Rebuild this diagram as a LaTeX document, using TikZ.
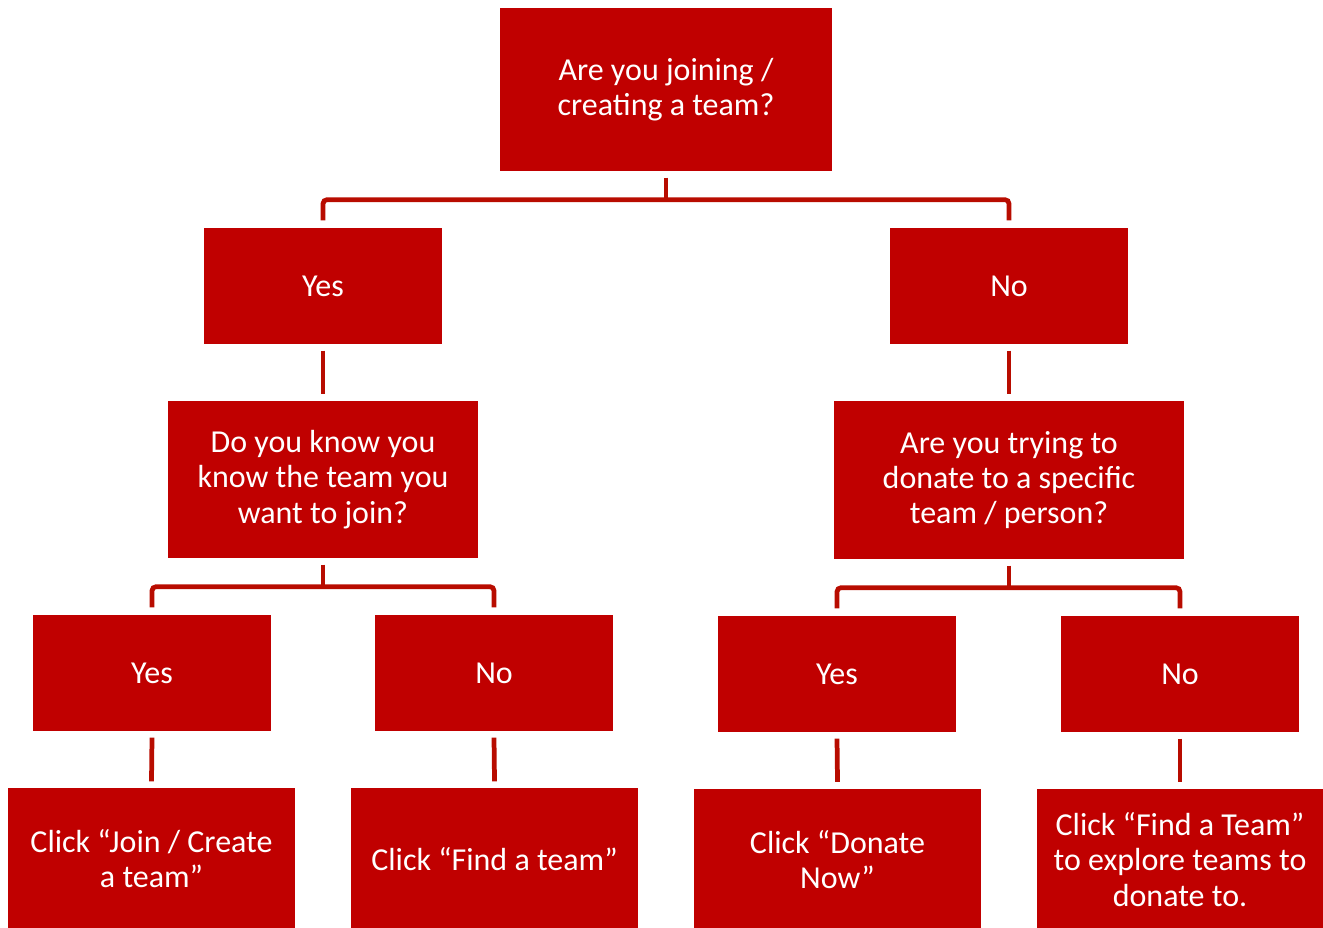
\documentclass[tikz,border=0pt]{standalone}
\usepackage{fontspec}
\setmainfont{Carlito}
\definecolor{boxred}{HTML}{C00000}
\definecolor{linered}{HTML}{B80C00}
\begin{document}
\begin{tikzpicture}[x=1cm,y=1cm,
  box/.style={fill=boxred, draw=none, text=white, align=center, inner sep=0pt,
    font=\fontsize{9.1}{10}\selectfont},
  small/.style={box, minimum width=2.38cm, minimum height=1.16cm},
  conn/.style={draw=linered, line width=1.35pt, rounded corners=0.04cm}]
\useasboundingbox (0,0) rectangle (13.23,-9.28);
\node[box, minimum width=3.32cm, minimum height=1.63cm] (top) at (6.66,-0.895) {Are you joining /\\creating a team?};
\node[small] (yes1) at (3.23,-2.86) {Yes};
\node[small] (no1) at (10.09,-2.86) {No};
\node[box, minimum width=3.10cm, minimum height=1.57cm] (q2l) at (3.23,-4.795) {Do you know you\\know the team you\\want to join?};
\node[box, minimum width=3.50cm, minimum height=1.58cm] (q2r) at (10.09,-4.80) {Are you trying to\\donate to a specific\\team / person?};
\node[small] (yes2l) at (1.52,-6.73) {Yes};
\node[small] (no2l) at (4.94,-6.73) {No};
\node[small] (yes2r) at (8.37,-6.74) {Yes};
\node[small] (no2r) at (11.80,-6.74) {No};
\node[box, minimum width=2.87cm, minimum height=1.42cm] (b1) at (1.515,-8.59) {Click “Join / Create\\a team”};
\node[box, minimum width=2.87cm, minimum height=1.42cm] (b2) at (4.945,-8.59) {Click “Find a team”};
\node[box, minimum width=2.87cm, minimum height=1.42cm] (b3) at (8.375,-8.595) {Click “Donate\\Now”};
\node[box, minimum width=2.87cm, minimum height=1.42cm] (b4) at (11.80,-8.595) {Click “Find a Team”\\to explore teams to\\donate to.};
% junctions
\coordinate (j1) at ([yshift=-0.28cm]top.south);
\coordinate (j2) at ([yshift=-0.28cm]q2l.south);
\coordinate (j3) at ([yshift=-0.28cm]q2r.south);
% connectors
\draw[conn] ([yshift=-0.06cm]top.south) -- (j1);
\draw[conn] ([yshift=0.07cm]yes1.north) |- (j1) -| ([yshift=0.07cm]no1.north);
\draw[conn] ([yshift=-0.06cm]yes1.south) -- ([yshift=0.06cm]q2l.north);
\draw[conn] ([yshift=-0.06cm]no1.south) -- ([yshift=0.06cm]q2r.north);
\draw[conn] ([yshift=-0.06cm]q2l.south) -- (j2);
\draw[conn] ([yshift=0.07cm]yes2l.north) |- (j2) -| ([yshift=0.07cm]no2l.north);
\draw[conn] ([yshift=-0.06cm]q2r.south) -- (j3);
\draw[conn] ([yshift=0.07cm]yes2r.north) |- (j3) -| ([yshift=0.07cm]no2r.north);
\draw[conn] ([yshift=-0.06cm]yes2l.south) -- ([yshift=0.06cm]b1.north);
\draw[conn] ([yshift=-0.06cm]no2l.south) -- ([yshift=0.06cm]b2.north);
\draw[conn] ([yshift=-0.06cm]yes2r.south) -- ([yshift=0.06cm]b3.north);
\draw[conn] ([yshift=-0.06cm]no2r.south) -- ([yshift=0.06cm]b4.north);
\end{tikzpicture}
\end{document}
